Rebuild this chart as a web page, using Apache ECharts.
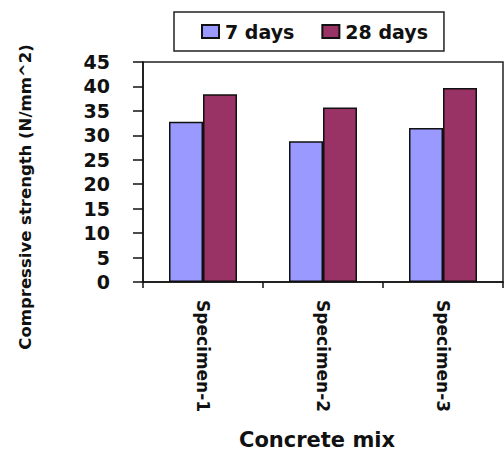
<!DOCTYPE html>
<html>
<head>
<meta charset="utf-8">
<script src="https://cdn.jsdelivr.net/npm/echarts@6/dist/echarts.min.js"></script>
<style>html,body{margin:0;padding:0;background:#fff}#c{width:504px;height:452px}</style>
</head>
<body>
<div id="c"></div>
<script>
const categories = ['Specimen-1', 'Specimen-2', 'Specimen-3'];
const days7 = [32.8, 28.8, 31.5];
const days28 = [38.4, 35.7, 39.7];
const seriesNames = ['7 days', '28 days'];
const yTicks = { min: 0, max: 45, interval: 5 };
const yTitle = 'Compressive strength (N/mm^2)';
const xTitle = 'Concrete mix';

const FONT = 'DejaVu Sans';
const chart = echarts.init(document.getElementById('c'), null, { renderer: 'svg' });
chart.setOption({
  animation: false,
  backgroundColor: '#fff',
  legend: {
    left: 174, top: 12,
    padding: [10, 16, 10, 27],
    borderColor: '#222', borderWidth: 1.5,
    itemWidth: 17, itemHeight: 13, itemGap: 27,
    icon: 'rect',
    textStyle: { fontFamily: FONT, fontWeight: 'bold', fontSize: 19, color: '#111', padding: [0, 0, 0, 1] },
    data: seriesNames
  },
  grid: { left: 143, top: 62, right: 1, bottom: 170, show: true, borderColor: '#222', borderWidth: 1.5, backgroundColor: 'transparent' },
  xAxis: {
    type: 'category', data: categories,
    axisLine: { lineStyle: { color: '#111', width: 1.5 } },
    axisTick: { show: true, length: 6, lineStyle: { color: '#111', width: 1.5 } },
    axisLabel: { rotate: -90, margin: 18, fontFamily: FONT, fontWeight: 'bold', fontSize: 17, color: '#111' }
  },
  yAxis: {
    type: 'value', min: yTicks.min, max: yTicks.max, interval: yTicks.interval,
    splitLine: { show: false },
    axisLine: { show: true, lineStyle: { color: '#111', width: 1.5 } },
    axisTick: { show: true, length: 10, lineStyle: { color: '#111', width: 1.5 } },
    axisLabel: { margin: 33, fontFamily: FONT, fontWeight: 'bold', fontSize: 19, color: '#111' }
  },
  series: [
    { name: seriesNames[0], type: 'bar', data: days7, barWidth: 34, barGap: '0%',
      itemStyle: { color: '#9999FF', borderColor: '#111', borderWidth: 1.5 } },
    { name: seriesNames[1], type: 'bar', data: days28, barWidth: 34, barGap: '0%',
      itemStyle: { color: '#993366', borderColor: '#111', borderWidth: 1.5 } }
  ],
  graphic: [
    { type: 'text', x: 25, y: 197, rotation: Math.PI / 2,
      style: { text: yTitle, font: 'bold 16.5px "DejaVu Sans"', fill: '#111', align: 'center', verticalAlign: 'middle', textAlign: 'center', textVerticalAlign: 'middle' } },
    { type: 'text', x: 317, y: 440,
      style: { text: xTitle, font: 'bold 21px "DejaVu Sans"', fill: '#111', align: 'center', verticalAlign: 'middle', textAlign: 'center', textVerticalAlign: 'middle' } }
  ]
});
</script>
</body>
</html>
